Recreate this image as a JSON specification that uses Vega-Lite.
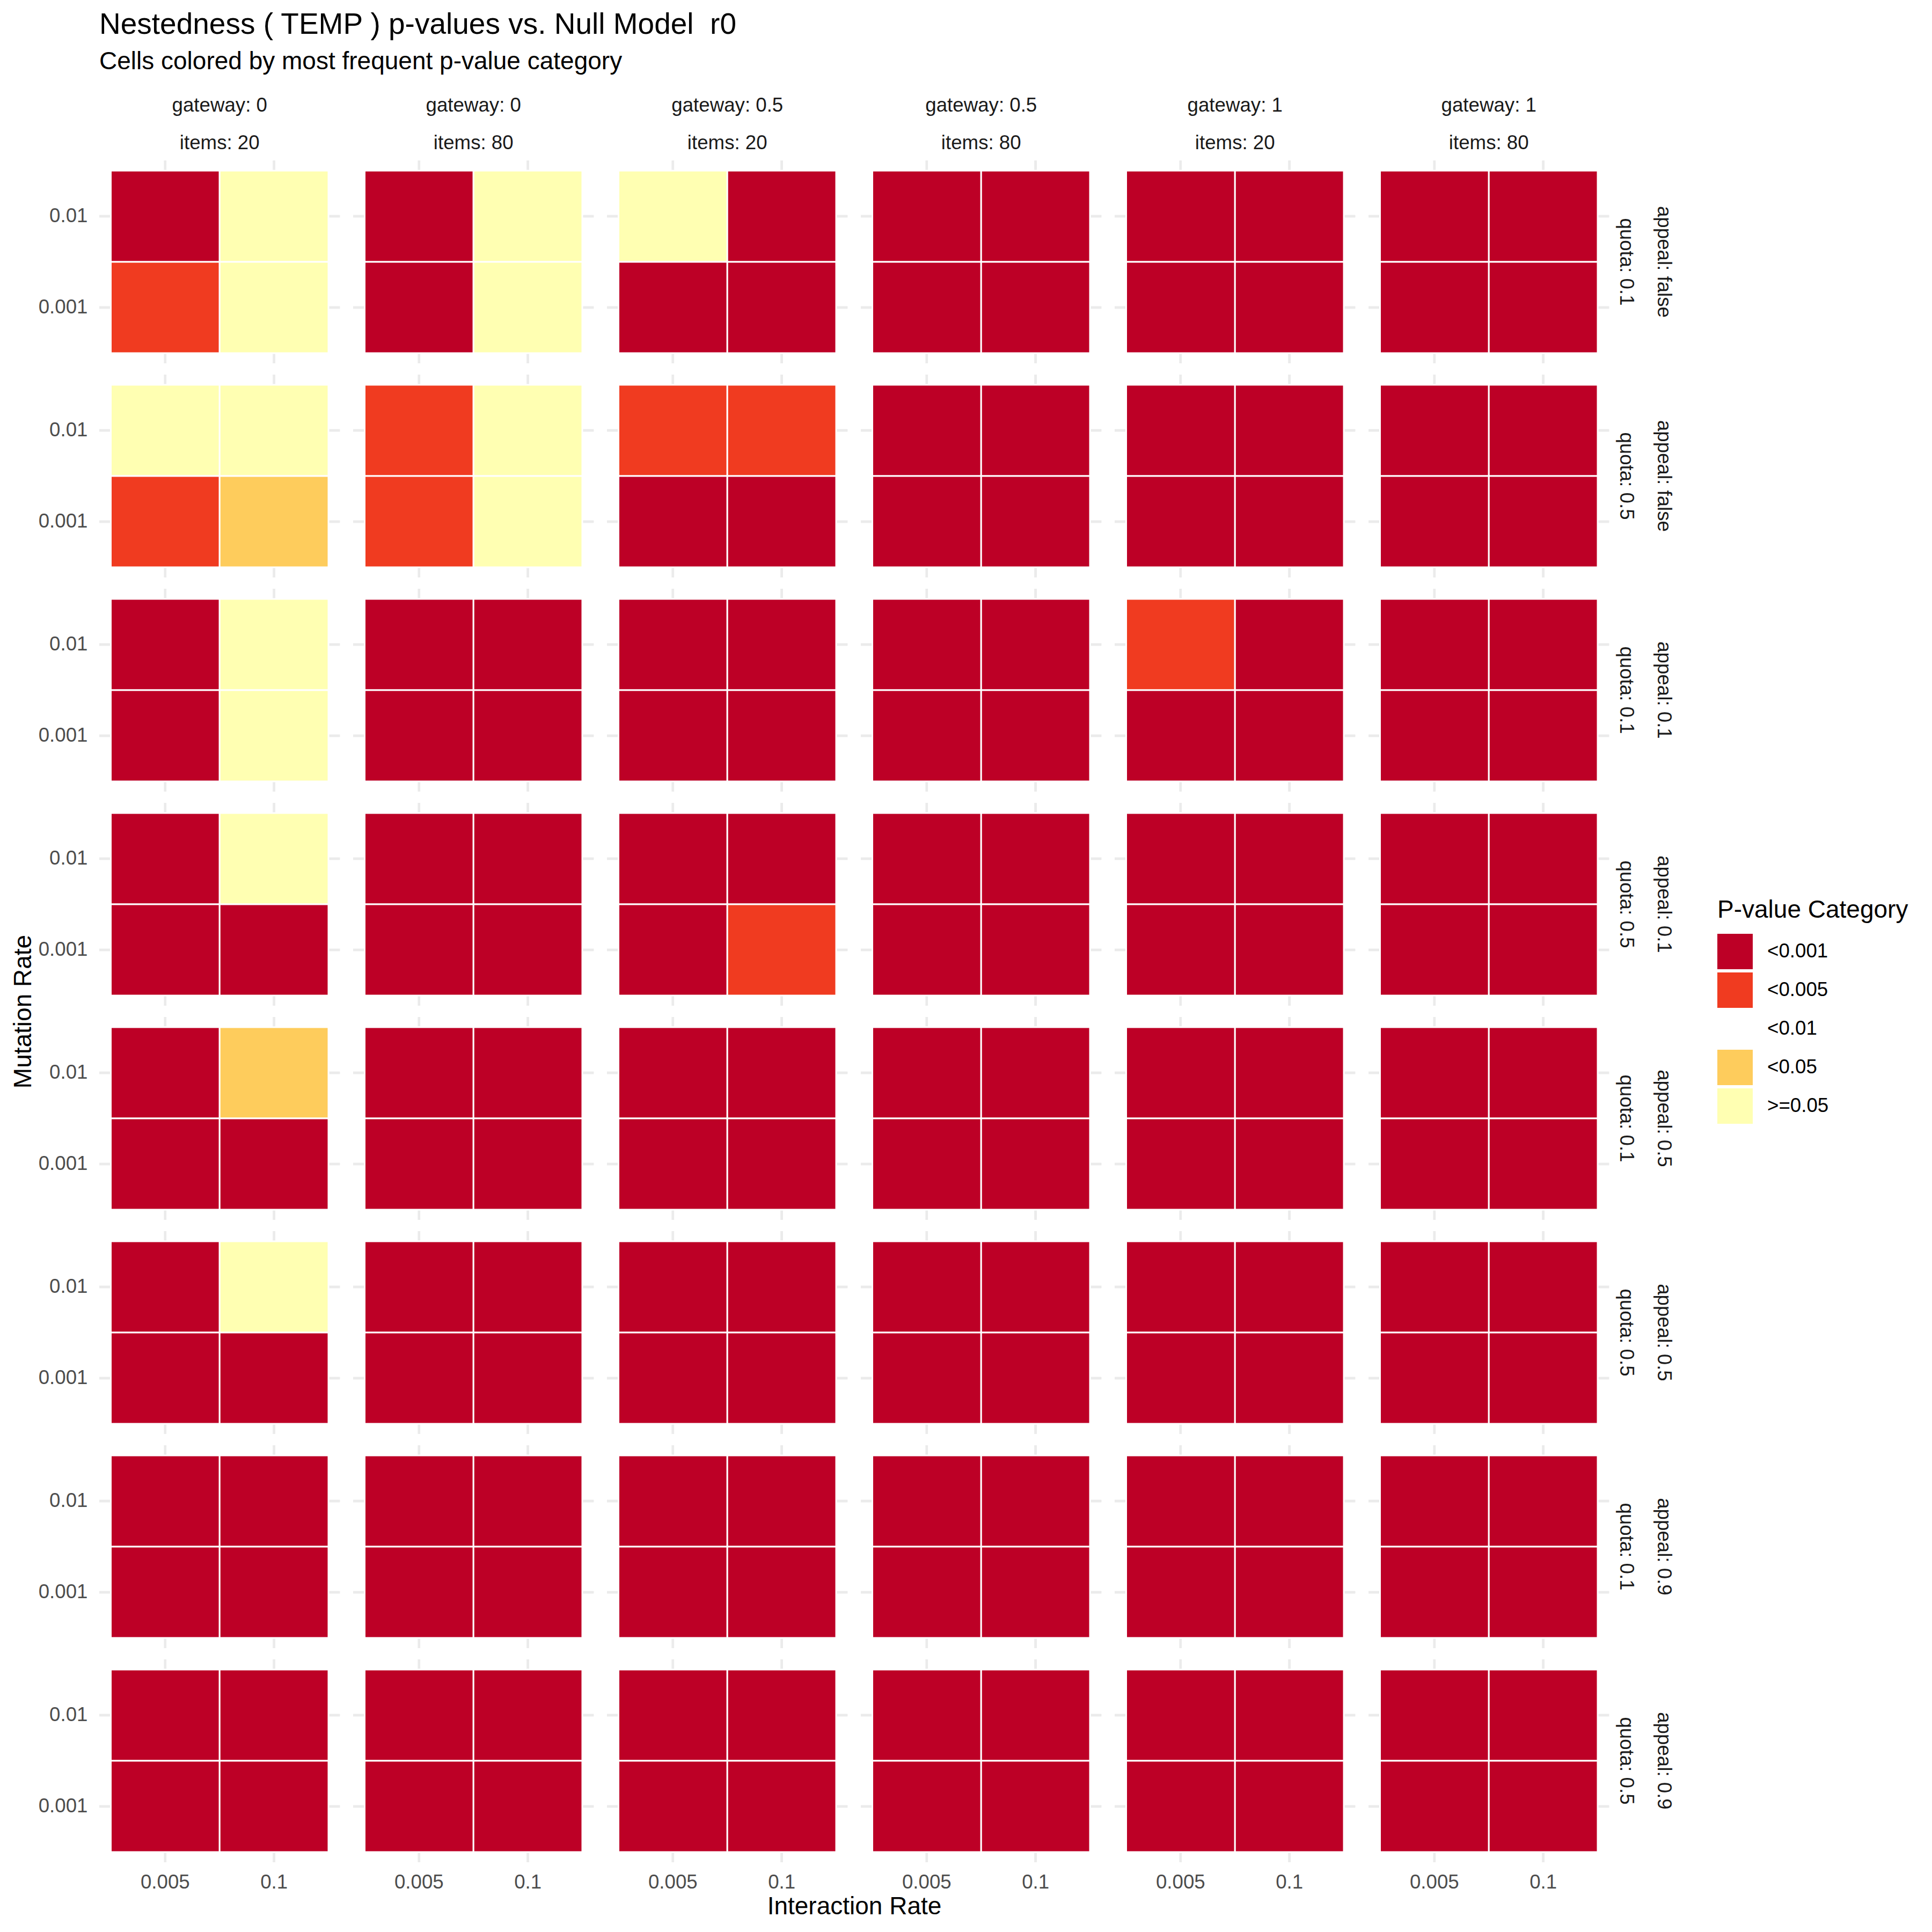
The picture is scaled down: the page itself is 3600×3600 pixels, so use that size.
{
  "$schema": "https://vega.github.io/schema/vega-lite/v6.json",
  "padding": {"left": 20, "top": 19, "right": 10, "bottom": 10},
  "title": {
    "text": "Nestedness ( TEMP ) p-values vs. Null Model\u00a0 r0",
    "subtitle": "Cells colored by most frequent p-value category",
    "anchor": "start",
    "frame": "group",
    "fontSize": 55,
    "fontWeight": "normal",
    "color": "black",
    "subtitleFontSize": 46,
    "subtitleColor": "black",
    "subtitlePadding": 18,
    "offset": 40
  },
  "data": {
    "values": [
      {"col":"0|20","row":"false|0.1","ir":"0.005","mr":"0.01","cat":"<0.001"},
      {"col":"0|20","row":"false|0.1","ir":"0.1","mr":"0.01","cat":">=0.05"},
      {"col":"0|20","row":"false|0.1","ir":"0.005","mr":"0.001","cat":"<0.005"},
      {"col":"0|20","row":"false|0.1","ir":"0.1","mr":"0.001","cat":">=0.05"},
      {"col":"0|80","row":"false|0.1","ir":"0.005","mr":"0.01","cat":"<0.001"},
      {"col":"0|80","row":"false|0.1","ir":"0.1","mr":"0.01","cat":">=0.05"},
      {"col":"0|80","row":"false|0.1","ir":"0.005","mr":"0.001","cat":"<0.001"},
      {"col":"0|80","row":"false|0.1","ir":"0.1","mr":"0.001","cat":">=0.05"},
      {"col":"0.5|20","row":"false|0.1","ir":"0.005","mr":"0.01","cat":">=0.05"},
      {"col":"0.5|20","row":"false|0.1","ir":"0.1","mr":"0.01","cat":"<0.001"},
      {"col":"0.5|20","row":"false|0.1","ir":"0.005","mr":"0.001","cat":"<0.001"},
      {"col":"0.5|20","row":"false|0.1","ir":"0.1","mr":"0.001","cat":"<0.001"},
      {"col":"0.5|80","row":"false|0.1","ir":"0.005","mr":"0.01","cat":"<0.001"},
      {"col":"0.5|80","row":"false|0.1","ir":"0.1","mr":"0.01","cat":"<0.001"},
      {"col":"0.5|80","row":"false|0.1","ir":"0.005","mr":"0.001","cat":"<0.001"},
      {"col":"0.5|80","row":"false|0.1","ir":"0.1","mr":"0.001","cat":"<0.001"},
      {"col":"1|20","row":"false|0.1","ir":"0.005","mr":"0.01","cat":"<0.001"},
      {"col":"1|20","row":"false|0.1","ir":"0.1","mr":"0.01","cat":"<0.001"},
      {"col":"1|20","row":"false|0.1","ir":"0.005","mr":"0.001","cat":"<0.001"},
      {"col":"1|20","row":"false|0.1","ir":"0.1","mr":"0.001","cat":"<0.001"},
      {"col":"1|80","row":"false|0.1","ir":"0.005","mr":"0.01","cat":"<0.001"},
      {"col":"1|80","row":"false|0.1","ir":"0.1","mr":"0.01","cat":"<0.001"},
      {"col":"1|80","row":"false|0.1","ir":"0.005","mr":"0.001","cat":"<0.001"},
      {"col":"1|80","row":"false|0.1","ir":"0.1","mr":"0.001","cat":"<0.001"},

      {"col":"0|20","row":"false|0.5","ir":"0.005","mr":"0.01","cat":">=0.05"},
      {"col":"0|20","row":"false|0.5","ir":"0.1","mr":"0.01","cat":">=0.05"},
      {"col":"0|20","row":"false|0.5","ir":"0.005","mr":"0.001","cat":"<0.005"},
      {"col":"0|20","row":"false|0.5","ir":"0.1","mr":"0.001","cat":"<0.05"},
      {"col":"0|80","row":"false|0.5","ir":"0.005","mr":"0.01","cat":"<0.005"},
      {"col":"0|80","row":"false|0.5","ir":"0.1","mr":"0.01","cat":">=0.05"},
      {"col":"0|80","row":"false|0.5","ir":"0.005","mr":"0.001","cat":"<0.005"},
      {"col":"0|80","row":"false|0.5","ir":"0.1","mr":"0.001","cat":">=0.05"},
      {"col":"0.5|20","row":"false|0.5","ir":"0.005","mr":"0.01","cat":"<0.005"},
      {"col":"0.5|20","row":"false|0.5","ir":"0.1","mr":"0.01","cat":"<0.005"},
      {"col":"0.5|20","row":"false|0.5","ir":"0.005","mr":"0.001","cat":"<0.001"},
      {"col":"0.5|20","row":"false|0.5","ir":"0.1","mr":"0.001","cat":"<0.001"},
      {"col":"0.5|80","row":"false|0.5","ir":"0.005","mr":"0.01","cat":"<0.001"},
      {"col":"0.5|80","row":"false|0.5","ir":"0.1","mr":"0.01","cat":"<0.001"},
      {"col":"0.5|80","row":"false|0.5","ir":"0.005","mr":"0.001","cat":"<0.001"},
      {"col":"0.5|80","row":"false|0.5","ir":"0.1","mr":"0.001","cat":"<0.001"},
      {"col":"1|20","row":"false|0.5","ir":"0.005","mr":"0.01","cat":"<0.001"},
      {"col":"1|20","row":"false|0.5","ir":"0.1","mr":"0.01","cat":"<0.001"},
      {"col":"1|20","row":"false|0.5","ir":"0.005","mr":"0.001","cat":"<0.001"},
      {"col":"1|20","row":"false|0.5","ir":"0.1","mr":"0.001","cat":"<0.001"},
      {"col":"1|80","row":"false|0.5","ir":"0.005","mr":"0.01","cat":"<0.001"},
      {"col":"1|80","row":"false|0.5","ir":"0.1","mr":"0.01","cat":"<0.001"},
      {"col":"1|80","row":"false|0.5","ir":"0.005","mr":"0.001","cat":"<0.001"},
      {"col":"1|80","row":"false|0.5","ir":"0.1","mr":"0.001","cat":"<0.001"},

      {"col":"0|20","row":"0.1|0.1","ir":"0.005","mr":"0.01","cat":"<0.001"},
      {"col":"0|20","row":"0.1|0.1","ir":"0.1","mr":"0.01","cat":">=0.05"},
      {"col":"0|20","row":"0.1|0.1","ir":"0.005","mr":"0.001","cat":"<0.001"},
      {"col":"0|20","row":"0.1|0.1","ir":"0.1","mr":"0.001","cat":">=0.05"},
      {"col":"0|80","row":"0.1|0.1","ir":"0.005","mr":"0.01","cat":"<0.001"},
      {"col":"0|80","row":"0.1|0.1","ir":"0.1","mr":"0.01","cat":"<0.001"},
      {"col":"0|80","row":"0.1|0.1","ir":"0.005","mr":"0.001","cat":"<0.001"},
      {"col":"0|80","row":"0.1|0.1","ir":"0.1","mr":"0.001","cat":"<0.001"},
      {"col":"0.5|20","row":"0.1|0.1","ir":"0.005","mr":"0.01","cat":"<0.001"},
      {"col":"0.5|20","row":"0.1|0.1","ir":"0.1","mr":"0.01","cat":"<0.001"},
      {"col":"0.5|20","row":"0.1|0.1","ir":"0.005","mr":"0.001","cat":"<0.001"},
      {"col":"0.5|20","row":"0.1|0.1","ir":"0.1","mr":"0.001","cat":"<0.001"},
      {"col":"0.5|80","row":"0.1|0.1","ir":"0.005","mr":"0.01","cat":"<0.001"},
      {"col":"0.5|80","row":"0.1|0.1","ir":"0.1","mr":"0.01","cat":"<0.001"},
      {"col":"0.5|80","row":"0.1|0.1","ir":"0.005","mr":"0.001","cat":"<0.001"},
      {"col":"0.5|80","row":"0.1|0.1","ir":"0.1","mr":"0.001","cat":"<0.001"},
      {"col":"1|20","row":"0.1|0.1","ir":"0.005","mr":"0.01","cat":"<0.005"},
      {"col":"1|20","row":"0.1|0.1","ir":"0.1","mr":"0.01","cat":"<0.001"},
      {"col":"1|20","row":"0.1|0.1","ir":"0.005","mr":"0.001","cat":"<0.001"},
      {"col":"1|20","row":"0.1|0.1","ir":"0.1","mr":"0.001","cat":"<0.001"},
      {"col":"1|80","row":"0.1|0.1","ir":"0.005","mr":"0.01","cat":"<0.001"},
      {"col":"1|80","row":"0.1|0.1","ir":"0.1","mr":"0.01","cat":"<0.001"},
      {"col":"1|80","row":"0.1|0.1","ir":"0.005","mr":"0.001","cat":"<0.001"},
      {"col":"1|80","row":"0.1|0.1","ir":"0.1","mr":"0.001","cat":"<0.001"},

      {"col":"0|20","row":"0.1|0.5","ir":"0.005","mr":"0.01","cat":"<0.001"},
      {"col":"0|20","row":"0.1|0.5","ir":"0.1","mr":"0.01","cat":">=0.05"},
      {"col":"0|20","row":"0.1|0.5","ir":"0.005","mr":"0.001","cat":"<0.001"},
      {"col":"0|20","row":"0.1|0.5","ir":"0.1","mr":"0.001","cat":"<0.001"},
      {"col":"0|80","row":"0.1|0.5","ir":"0.005","mr":"0.01","cat":"<0.001"},
      {"col":"0|80","row":"0.1|0.5","ir":"0.1","mr":"0.01","cat":"<0.001"},
      {"col":"0|80","row":"0.1|0.5","ir":"0.005","mr":"0.001","cat":"<0.001"},
      {"col":"0|80","row":"0.1|0.5","ir":"0.1","mr":"0.001","cat":"<0.001"},
      {"col":"0.5|20","row":"0.1|0.5","ir":"0.005","mr":"0.01","cat":"<0.001"},
      {"col":"0.5|20","row":"0.1|0.5","ir":"0.1","mr":"0.01","cat":"<0.001"},
      {"col":"0.5|20","row":"0.1|0.5","ir":"0.005","mr":"0.001","cat":"<0.001"},
      {"col":"0.5|20","row":"0.1|0.5","ir":"0.1","mr":"0.001","cat":"<0.005"},
      {"col":"0.5|80","row":"0.1|0.5","ir":"0.005","mr":"0.01","cat":"<0.001"},
      {"col":"0.5|80","row":"0.1|0.5","ir":"0.1","mr":"0.01","cat":"<0.001"},
      {"col":"0.5|80","row":"0.1|0.5","ir":"0.005","mr":"0.001","cat":"<0.001"},
      {"col":"0.5|80","row":"0.1|0.5","ir":"0.1","mr":"0.001","cat":"<0.001"},
      {"col":"1|20","row":"0.1|0.5","ir":"0.005","mr":"0.01","cat":"<0.001"},
      {"col":"1|20","row":"0.1|0.5","ir":"0.1","mr":"0.01","cat":"<0.001"},
      {"col":"1|20","row":"0.1|0.5","ir":"0.005","mr":"0.001","cat":"<0.001"},
      {"col":"1|20","row":"0.1|0.5","ir":"0.1","mr":"0.001","cat":"<0.001"},
      {"col":"1|80","row":"0.1|0.5","ir":"0.005","mr":"0.01","cat":"<0.001"},
      {"col":"1|80","row":"0.1|0.5","ir":"0.1","mr":"0.01","cat":"<0.001"},
      {"col":"1|80","row":"0.1|0.5","ir":"0.005","mr":"0.001","cat":"<0.001"},
      {"col":"1|80","row":"0.1|0.5","ir":"0.1","mr":"0.001","cat":"<0.001"},

      {"col":"0|20","row":"0.5|0.1","ir":"0.005","mr":"0.01","cat":"<0.001"},
      {"col":"0|20","row":"0.5|0.1","ir":"0.1","mr":"0.01","cat":"<0.05"},
      {"col":"0|20","row":"0.5|0.1","ir":"0.005","mr":"0.001","cat":"<0.001"},
      {"col":"0|20","row":"0.5|0.1","ir":"0.1","mr":"0.001","cat":"<0.001"},
      {"col":"0|80","row":"0.5|0.1","ir":"0.005","mr":"0.01","cat":"<0.001"},
      {"col":"0|80","row":"0.5|0.1","ir":"0.1","mr":"0.01","cat":"<0.001"},
      {"col":"0|80","row":"0.5|0.1","ir":"0.005","mr":"0.001","cat":"<0.001"},
      {"col":"0|80","row":"0.5|0.1","ir":"0.1","mr":"0.001","cat":"<0.001"},
      {"col":"0.5|20","row":"0.5|0.1","ir":"0.005","mr":"0.01","cat":"<0.001"},
      {"col":"0.5|20","row":"0.5|0.1","ir":"0.1","mr":"0.01","cat":"<0.001"},
      {"col":"0.5|20","row":"0.5|0.1","ir":"0.005","mr":"0.001","cat":"<0.001"},
      {"col":"0.5|20","row":"0.5|0.1","ir":"0.1","mr":"0.001","cat":"<0.001"},
      {"col":"0.5|80","row":"0.5|0.1","ir":"0.005","mr":"0.01","cat":"<0.001"},
      {"col":"0.5|80","row":"0.5|0.1","ir":"0.1","mr":"0.01","cat":"<0.001"},
      {"col":"0.5|80","row":"0.5|0.1","ir":"0.005","mr":"0.001","cat":"<0.001"},
      {"col":"0.5|80","row":"0.5|0.1","ir":"0.1","mr":"0.001","cat":"<0.001"},
      {"col":"1|20","row":"0.5|0.1","ir":"0.005","mr":"0.01","cat":"<0.001"},
      {"col":"1|20","row":"0.5|0.1","ir":"0.1","mr":"0.01","cat":"<0.001"},
      {"col":"1|20","row":"0.5|0.1","ir":"0.005","mr":"0.001","cat":"<0.001"},
      {"col":"1|20","row":"0.5|0.1","ir":"0.1","mr":"0.001","cat":"<0.001"},
      {"col":"1|80","row":"0.5|0.1","ir":"0.005","mr":"0.01","cat":"<0.001"},
      {"col":"1|80","row":"0.5|0.1","ir":"0.1","mr":"0.01","cat":"<0.001"},
      {"col":"1|80","row":"0.5|0.1","ir":"0.005","mr":"0.001","cat":"<0.001"},
      {"col":"1|80","row":"0.5|0.1","ir":"0.1","mr":"0.001","cat":"<0.001"},

      {"col":"0|20","row":"0.5|0.5","ir":"0.005","mr":"0.01","cat":"<0.001"},
      {"col":"0|20","row":"0.5|0.5","ir":"0.1","mr":"0.01","cat":">=0.05"},
      {"col":"0|20","row":"0.5|0.5","ir":"0.005","mr":"0.001","cat":"<0.001"},
      {"col":"0|20","row":"0.5|0.5","ir":"0.1","mr":"0.001","cat":"<0.001"},
      {"col":"0|80","row":"0.5|0.5","ir":"0.005","mr":"0.01","cat":"<0.001"},
      {"col":"0|80","row":"0.5|0.5","ir":"0.1","mr":"0.01","cat":"<0.001"},
      {"col":"0|80","row":"0.5|0.5","ir":"0.005","mr":"0.001","cat":"<0.001"},
      {"col":"0|80","row":"0.5|0.5","ir":"0.1","mr":"0.001","cat":"<0.001"},
      {"col":"0.5|20","row":"0.5|0.5","ir":"0.005","mr":"0.01","cat":"<0.001"},
      {"col":"0.5|20","row":"0.5|0.5","ir":"0.1","mr":"0.01","cat":"<0.001"},
      {"col":"0.5|20","row":"0.5|0.5","ir":"0.005","mr":"0.001","cat":"<0.001"},
      {"col":"0.5|20","row":"0.5|0.5","ir":"0.1","mr":"0.001","cat":"<0.001"},
      {"col":"0.5|80","row":"0.5|0.5","ir":"0.005","mr":"0.01","cat":"<0.001"},
      {"col":"0.5|80","row":"0.5|0.5","ir":"0.1","mr":"0.01","cat":"<0.001"},
      {"col":"0.5|80","row":"0.5|0.5","ir":"0.005","mr":"0.001","cat":"<0.001"},
      {"col":"0.5|80","row":"0.5|0.5","ir":"0.1","mr":"0.001","cat":"<0.001"},
      {"col":"1|20","row":"0.5|0.5","ir":"0.005","mr":"0.01","cat":"<0.001"},
      {"col":"1|20","row":"0.5|0.5","ir":"0.1","mr":"0.01","cat":"<0.001"},
      {"col":"1|20","row":"0.5|0.5","ir":"0.005","mr":"0.001","cat":"<0.001"},
      {"col":"1|20","row":"0.5|0.5","ir":"0.1","mr":"0.001","cat":"<0.001"},
      {"col":"1|80","row":"0.5|0.5","ir":"0.005","mr":"0.01","cat":"<0.001"},
      {"col":"1|80","row":"0.5|0.5","ir":"0.1","mr":"0.01","cat":"<0.001"},
      {"col":"1|80","row":"0.5|0.5","ir":"0.005","mr":"0.001","cat":"<0.001"},
      {"col":"1|80","row":"0.5|0.5","ir":"0.1","mr":"0.001","cat":"<0.001"},

      {"col":"0|20","row":"0.9|0.1","ir":"0.005","mr":"0.01","cat":"<0.001"},
      {"col":"0|20","row":"0.9|0.1","ir":"0.1","mr":"0.01","cat":"<0.001"},
      {"col":"0|20","row":"0.9|0.1","ir":"0.005","mr":"0.001","cat":"<0.001"},
      {"col":"0|20","row":"0.9|0.1","ir":"0.1","mr":"0.001","cat":"<0.001"},
      {"col":"0|80","row":"0.9|0.1","ir":"0.005","mr":"0.01","cat":"<0.001"},
      {"col":"0|80","row":"0.9|0.1","ir":"0.1","mr":"0.01","cat":"<0.001"},
      {"col":"0|80","row":"0.9|0.1","ir":"0.005","mr":"0.001","cat":"<0.001"},
      {"col":"0|80","row":"0.9|0.1","ir":"0.1","mr":"0.001","cat":"<0.001"},
      {"col":"0.5|20","row":"0.9|0.1","ir":"0.005","mr":"0.01","cat":"<0.001"},
      {"col":"0.5|20","row":"0.9|0.1","ir":"0.1","mr":"0.01","cat":"<0.001"},
      {"col":"0.5|20","row":"0.9|0.1","ir":"0.005","mr":"0.001","cat":"<0.001"},
      {"col":"0.5|20","row":"0.9|0.1","ir":"0.1","mr":"0.001","cat":"<0.001"},
      {"col":"0.5|80","row":"0.9|0.1","ir":"0.005","mr":"0.01","cat":"<0.001"},
      {"col":"0.5|80","row":"0.9|0.1","ir":"0.1","mr":"0.01","cat":"<0.001"},
      {"col":"0.5|80","row":"0.9|0.1","ir":"0.005","mr":"0.001","cat":"<0.001"},
      {"col":"0.5|80","row":"0.9|0.1","ir":"0.1","mr":"0.001","cat":"<0.001"},
      {"col":"1|20","row":"0.9|0.1","ir":"0.005","mr":"0.01","cat":"<0.001"},
      {"col":"1|20","row":"0.9|0.1","ir":"0.1","mr":"0.01","cat":"<0.001"},
      {"col":"1|20","row":"0.9|0.1","ir":"0.005","mr":"0.001","cat":"<0.001"},
      {"col":"1|20","row":"0.9|0.1","ir":"0.1","mr":"0.001","cat":"<0.001"},
      {"col":"1|80","row":"0.9|0.1","ir":"0.005","mr":"0.01","cat":"<0.001"},
      {"col":"1|80","row":"0.9|0.1","ir":"0.1","mr":"0.01","cat":"<0.001"},
      {"col":"1|80","row":"0.9|0.1","ir":"0.005","mr":"0.001","cat":"<0.001"},
      {"col":"1|80","row":"0.9|0.1","ir":"0.1","mr":"0.001","cat":"<0.001"},

      {"col":"0|20","row":"0.9|0.5","ir":"0.005","mr":"0.01","cat":"<0.001"},
      {"col":"0|20","row":"0.9|0.5","ir":"0.1","mr":"0.01","cat":"<0.001"},
      {"col":"0|20","row":"0.9|0.5","ir":"0.005","mr":"0.001","cat":"<0.001"},
      {"col":"0|20","row":"0.9|0.5","ir":"0.1","mr":"0.001","cat":"<0.001"},
      {"col":"0|80","row":"0.9|0.5","ir":"0.005","mr":"0.01","cat":"<0.001"},
      {"col":"0|80","row":"0.9|0.5","ir":"0.1","mr":"0.01","cat":"<0.001"},
      {"col":"0|80","row":"0.9|0.5","ir":"0.005","mr":"0.001","cat":"<0.001"},
      {"col":"0|80","row":"0.9|0.5","ir":"0.1","mr":"0.001","cat":"<0.001"},
      {"col":"0.5|20","row":"0.9|0.5","ir":"0.005","mr":"0.01","cat":"<0.001"},
      {"col":"0.5|20","row":"0.9|0.5","ir":"0.1","mr":"0.01","cat":"<0.001"},
      {"col":"0.5|20","row":"0.9|0.5","ir":"0.005","mr":"0.001","cat":"<0.001"},
      {"col":"0.5|20","row":"0.9|0.5","ir":"0.1","mr":"0.001","cat":"<0.001"},
      {"col":"0.5|80","row":"0.9|0.5","ir":"0.005","mr":"0.01","cat":"<0.001"},
      {"col":"0.5|80","row":"0.9|0.5","ir":"0.1","mr":"0.01","cat":"<0.001"},
      {"col":"0.5|80","row":"0.9|0.5","ir":"0.005","mr":"0.001","cat":"<0.001"},
      {"col":"0.5|80","row":"0.9|0.5","ir":"0.1","mr":"0.001","cat":"<0.001"},
      {"col":"1|20","row":"0.9|0.5","ir":"0.005","mr":"0.01","cat":"<0.001"},
      {"col":"1|20","row":"0.9|0.5","ir":"0.1","mr":"0.01","cat":"<0.001"},
      {"col":"1|20","row":"0.9|0.5","ir":"0.005","mr":"0.001","cat":"<0.001"},
      {"col":"1|20","row":"0.9|0.5","ir":"0.1","mr":"0.001","cat":"<0.001"},
      {"col":"1|80","row":"0.9|0.5","ir":"0.005","mr":"0.01","cat":"<0.001"},
      {"col":"1|80","row":"0.9|0.5","ir":"0.1","mr":"0.01","cat":"<0.001"},
      {"col":"1|80","row":"0.9|0.5","ir":"0.005","mr":"0.001","cat":"<0.001"},
      {"col":"1|80","row":"0.9|0.5","ir":"0.1","mr":"0.001","cat":"<0.001"}
    ]
  },
  "spacing": {"row": 21, "column": 24},
  "facet": {
    "column": {
      "field": "col",
      "type": "nominal",
      "sort": ["0|20", "0|80", "0.5|20", "0.5|80", "1|20", "1|80"],
      "title": "Interaction Rate",
      "header": {
        "labelOrient": "top",
        "titleOrient": "bottom",
        "labelExpr": "['gateway: ' + split(datum.value, '|')[0], 'items: ' + split(datum.value, '|')[1]]",
        "labelFontSize": 36.7,
        "labelColor": "#1A1A1A",
        "labelLineHeight": 70,
        "labelBaseline": "bottom",
        "labelPadding": -24,
        "titleFontSize": 46,
        "titleFontWeight": "normal",
        "titleColor": "black",
        "titlePadding": -5
      }
    },
    "row": {
      "field": "row",
      "type": "nominal",
      "sort": ["false|0.1", "false|0.5", "0.1|0.1", "0.1|0.5", "0.5|0.1", "0.5|0.5", "0.9|0.1", "0.9|0.5"],
      "title": "Mutation Rate",
      "header": {
        "labelOrient": "right",
        "titleOrient": "left",
        "labelAngle": 90,
        "labelAlign": "center",
        "labelBaseline": "bottom",
        "labelExpr": "['appeal: ' + split(datum.value, '|')[0], 'quota: ' + split(datum.value, '|')[1]]",
        "labelFontSize": 36.7,
        "labelColor": "#1A1A1A",
        "labelLineHeight": 70,
        "labelPadding": -25,
        "titleAngle": -90,
        "titleFontSize": 46,
        "titleFontWeight": "normal",
        "titleColor": "black",
        "titlePadding": -53
      }
    }
  },
  "spec": {
    "width": 448.5,
    "height": 378,
    "layer": [
      {
        "mark": {"type": "rule", "color": "#EBEBEB", "strokeWidth": 4.4, "clip": true},
        "encoding": {
          "x": {
            "field": "ir",
            "type": "nominal",
            "sort": ["0.005", "0.1"],
            "scale": {"paddingInner": 0, "paddingOuter": 0.106},
            "axis": {"title": null, "labelAngle": 0, "labelFontSize": 36.7, "labelColor": "#4D4D4D", "labelPadding": 19, "ticks": false, "domain": false, "grid": false}
          }
        }
      },
      {
        "mark": {"type": "rule", "color": "#EBEBEB", "strokeWidth": 4.4, "clip": true},
        "encoding": {
          "y": {
            "field": "mr",
            "type": "nominal",
            "sort": ["0.01", "0.001"],
            "scale": {"paddingInner": 0, "paddingOuter": 0.112},
            "axis": {"title": null, "labelFontSize": 36.7, "labelColor": "#4D4D4D", "labelPadding": 22, "ticks": false, "domain": false, "grid": false}
          }
        }
      },
      {
        "mark": {"type": "rect", "stroke": "white", "strokeWidth": 3},
        "encoding": {
          "x": {
            "field": "ir",
            "type": "nominal",
            "sort": ["0.005", "0.1"],
            "scale": {"paddingInner": 0, "paddingOuter": 0.106},
            "axis": {"title": null, "labelAngle": 0, "labelFontSize": 36.7, "labelColor": "#4D4D4D", "labelPadding": 19, "ticks": false, "domain": false, "grid": false}
          },
          "y": {
            "field": "mr",
            "type": "nominal",
            "sort": ["0.01", "0.001"],
            "scale": {"paddingInner": 0, "paddingOuter": 0.112},
            "axis": {"title": null, "labelFontSize": 36.7, "labelColor": "#4D4D4D", "labelPadding": 22, "ticks": false, "domain": false, "grid": false}
          },
          "fill": {
            "field": "cat",
            "type": "nominal",
            "scale": {
              "domain": ["<0.001", "<0.005", "<0.01", "<0.05", ">=0.05"],
              "range": ["#BD0026", "#F03B20", "transparent", "#FECC5C", "#FFFFB2"]
            },
            "legend": {
              "title": "P-value Category",
              "orient": "none",
              "legendX": 3015,
              "legendY": 1375,
              "symbolType": "square",
              "symbolSize": 4356,
              "symbolStrokeWidth": 0,
              "symbolOpacity": 1,
              "rowPadding": 6,
              "labelOffset": 27,
              "labelFontSize": 36.7,
              "labelColor": "black",
              "labelLimit": 1000,
              "titleFontSize": 46,
              "titleFontWeight": "normal",
              "titleColor": "black",
              "titleLimit": 1000,
              "titlePadding": 20
            }
          }
        }
      }
    ]
  },
  "config": {
    "font": "Liberation Sans",
    "view": {"stroke": null},
    "background": "white"
  }
}
